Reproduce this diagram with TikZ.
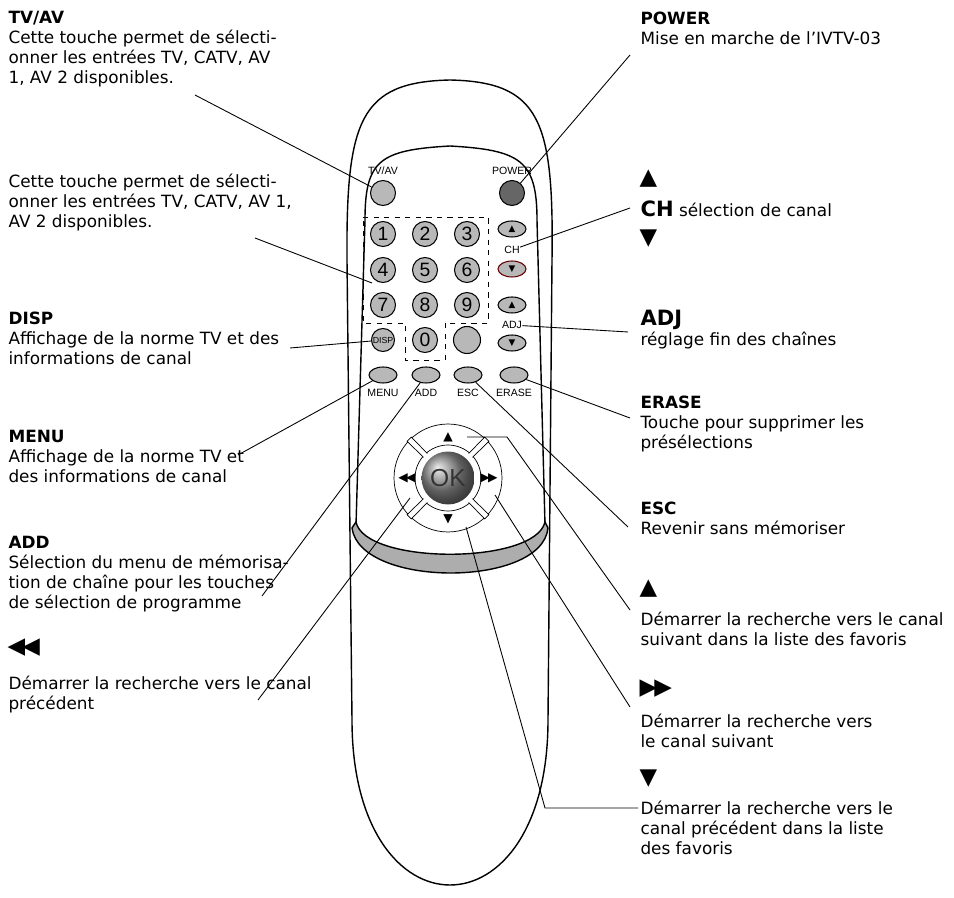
\documentclass[tikz,border=0pt]{standalone}
\usepackage{fontspec}
\setmainfont{DejaVu Sans}
\newfontfamily\keyfont{Liberation Sans}
\usetikzlibrary{positioning, shapes.geometric, calc}
\definecolor{keygray}{gray}{0.72}
\definecolor{bandgray}{gray}{0.68}
\begin{document}
\begin{tikzpicture}[x=0.02cm, y=-0.02cm, semithick]
  \tikzset{txt/.style={anchor=north west, align=left, inner sep=0pt,
             font=\fontsize{9.6}{11.4}\selectfont},
    sym/.style={anchor=west, inner sep=0pt, font=\fontsize{13}{15}\selectfont},
    key/.style={circle, draw, fill=keygray, minimum size=0.5cm, inner sep=0pt,
             font=\keyfont\fontsize{11}{12}\selectfont},
    oval/.style={ellipse, draw, fill=keygray, minimum width=0.56cm, minimum height=0.32cm, inner sep=0pt,
             font=\fontsize{5}{5}\selectfont},
    lbl/.style={font=\keyfont\fontsize{6}{6}\selectfont, inner sep=0pt},
    call/.style={line width=0.5pt}};
  \useasboundingbox (0,0) rectangle (954,898);
  % remote body
  \draw[thick, fill=white] (352,720) -- (347,260) .. controls (346,120) and (360,82) .. (450,80)
    .. controls (540,82) and (554,120) .. (552,260) -- (548,720)
    .. controls (548,940) and (352,940) .. (352,720) -- cycle;
  \draw[thick] (356,525) -- (365,220) .. controls (365,160) and (380,150) .. (450,146)
    .. controls (520,150) and (537,160) .. (537,220) -- (545,525);
  \draw[thick, fill=bandgray] (352,528) .. controls (360,588) and (542,588) .. (548,528)
    -- (545,522) .. controls (535,565) and (365,565) .. (356,522) -- cycle;
  % dashed keypad frame
  \draw[dashed, thin] (363,217) -- (488,217) -- (488,323) -- (445,323) -- (445,360)
    -- (405,360) -- (405,323) -- (363,323) -- cycle;
  % keys
  \node[key] (tvav) at (383,193) {};
  \node[lbl, above=0.1cm of tvav] {TV/AV};
  \node[key, fill=black!60] (power) at (512,193) {};
  \node[lbl, above=0.1cm of power] {POWER};
  \foreach \n/\x/\y in {1/383/234, 2/425/234, 3/467/234, 4/383/270, 5/425/270, 6/467/270,
      7/383/305, 8/425/305, 9/467/305, 0/425/340}
    \node[key] (k\n) at (\x,\y) {\n};
  \node[key, font=\keyfont\fontsize{5}{6}\selectfont, minimum size=0.46cm] (disp) at (383,340) {DISP};
  \node[key, minimum size=0.54cm] (blank) at (467,340) {};
  \node[oval] (chup) at (512,229) {▲};
  \node[lbl] (ch) at (512,250) {CH};
  \node[oval, draw=red!40!black] (chdn) at (512,269) {▼};
  \node[oval] (adjup) at (512,305) {▲};
  \node[lbl] (adj) at (512,325) {ADJ};
  \node[oval] (adjdn) at (512,343) {▼};
  \foreach \nm/\x/\t in {menu/383/MENU, add/426/ADD, esc/468/ESC, erase/514/ERASE} {
    \node[oval] (\nm) at (\x,375) {};
    \node[lbl, below=0.1cm of \nm] {\t};
  }
  % navigation ring
  \coordinate (nav) at (448,478);
  \draw[thin, fill=white] (nav) circle (1.08cm);
  \draw[thin] (nav) circle (0.66cm);
  \foreach \a in {45,135,225,315} {
    \draw[thin, fill=white] ($(nav)+(\a+5:0.64cm)$) -- ($(nav)+(\a+3:1.1cm)$)
      -- ($(nav)+(\a-3:1.1cm)$) -- ($(nav)+(\a-5:0.64cm)$);
  }
  \shade[ball color=black!45] (nav) circle (0.53cm);
  \node[font=\keyfont\fontsize{14}{15}\selectfont, text=black!80] (ok) at (nav) {OK};
  \node[font=\fontsize{7}{8}\selectfont] (up) at (448,437) {▲};
  \node[font=\fontsize{7}{8}\selectfont] (dn) at (448,519) {▼};
  \node[font=\fontsize{7}{8}\selectfont, inner sep=0pt] (rw) at (407,478) {◀\kern-1pt◀};
  \node[font=\fontsize{7}{8}\selectfont, inner sep=0pt] (ff) at (489,478) {▶\kern-1pt▶};
  % left texts
  \node[txt] (t1) at (8,11) {\textbf{TV/AV}\\Cette touche permet de sélecti-\\onner les entrées TV, CATV, AV\\1, AV 2 disponibles.};
  \node[txt] (t2) at (8,173) {Cette touche permet de sélecti-\\onner les entrées TV, CATV, AV 1,\\AV 2 disponibles.};
  \node[txt] (t3) at (8,311) {\textbf{DISP}\\Affichage de la norme TV et des\\informations de canal};
  \node[txt] (t4) at (8,430) {\textbf{MENU}\\Affichage de la norme TV et\\des informations de canal};
  \node[txt] (t5) at (8,536) {\textbf{ADD}\\Sélection du menu de mémorisa-\\tion de chaîne pour les touches\\de sélection de programme};
  \node[sym] (s6) at (7,648) {◀\kern-1.5pt◀};
  \node[txt] (t6) at (8,675) {Démarrer la recherche vers le canal\\précédent};
  % right texts
  \node[txt] (t7) at (640,11) {\textbf{POWER}\\Mise en marche de l’IVTV-03};
  \node[sym] (s8a) at (639,179) {▲};
  \node[txt, anchor=west] (t8) at (640,209) {{\fontsize{12}{13}\selectfont\textbf{CH}} sélection de canal};
  \node[sym] (s8b) at (639,239) {▼};
  \node[txt] (t9) at (640,310) {{\fontsize{12}{13}\selectfont\textbf{ADJ}}\\réglage fin des chaînes};
  \node[txt] (t10) at (640,395) {\textbf{ERASE}\\Touche pour supprimer les\\présélections};
  \node[txt] (t11) at (640,501) {\textbf{ESC}\\Revenir sans mémoriser};
  \node[sym] (s12) at (639,589) {▲};
  \node[txt] (t12) at (640,611) {Démarrer la recherche vers le canal\\suivant dans la liste des favoris};
  \node[sym] (s13) at (639,689) {▶\kern-1.5pt▶};
  \node[txt] (t13) at (640,713) {Démarrer la recherche vers\\le canal suivant};
  \node[sym] (s14) at (639,779) {▼};
  \node[txt] (t14) at (640,800) {Démarrer la recherche vers le\\canal précédent dans la liste\\des favoris};
  % callouts
  \coordinate (c1) at (195,95);   \coordinate (c2) at (255,238);
  \coordinate (c3) at (290,348);  \coordinate (c4) at (238,455);
  \coordinate (c5) at (262,596);  \coordinate (c6) at (258,700);
  \coordinate (c7) at (630,55);   \coordinate (c8) at (630,208);
  \coordinate (c9) at (628,332);  \coordinate (c10) at (630,418);
  \coordinate (c11) at (628,527); \coordinate (c12) at (630,610);
  \coordinate (c13) at (630,707); \coordinate (c14) at (638,808);
  \coordinate (b12) at (507,437); \coordinate (b14) at (545,808);
  \draw[call] (c1) -- (tvav);
  \draw[call] (c2) -- (372,283);
  \draw[call] (c3) -- (disp);
  \draw[call] (c4) -- (menu);
  \draw[call] (c5) -- (add);
  \draw[call] (c6) -- (410,498);
  \draw[call] (c7) -- (power);
  \draw[call] (c8) -- (ch);
  \draw[call] (c9) -- (adj);
  \draw[call] (c10) -- (erase);
  \draw[call] (c11) -- (esc);
  \draw[call] (c12) -- (b12) -- (467,437);
  \draw[call] (c13) -- (495,495);
  \draw[call] (c14) -- (b14) -- (466,527);
\end{tikzpicture}
\end{document}
